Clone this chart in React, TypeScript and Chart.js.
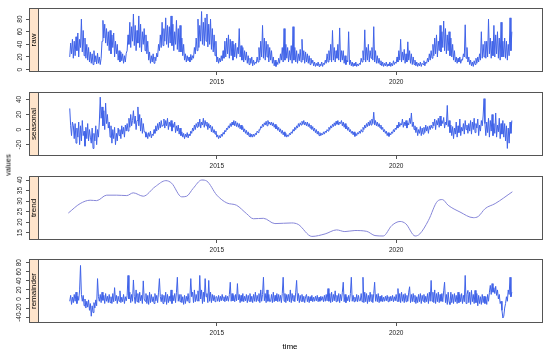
import React, { useEffect, useRef } from "react";
import { Chart, registerables } from "chart.js";

Chart.register(...registerables);

// ---- time index of the series (decimal years) ----
const START_YEAR = 2010.9;
const STEP_YEARS = 0.025;

// ---- series values (40 per year) ----
const rawValues = [
  20, 42, 25, 48,
  18, 45, 22, 52, 30, 58, 20, 48, 35, 80, 28, 62, 22, 50, 18, 40, 15, 35, 12, 28,
  10, 25, 8, 30, 12, 22, 9, 26, 10, 20, 8, 18, 45, 78, 50, 72, 42, 65, 38, 60,
  30, 62, 25, 55, 35, 58, 20, 45, 25, 40, 15, 30, 12, 28, 14, 25, 10, 22, 12, 26,
  30, 55, 40, 75, 35, 68, 45, 88, 38, 70, 30, 62, 42, 85, 35, 72, 28, 60, 40, 65,
  30, 55, 25, 45, 15, 28, 10, 22, 12, 25, 10, 20, 14, 26, 20, 40, 30, 55, 35, 75,
  38, 65, 45, 82, 40, 70, 35, 68, 42, 85, 38, 72, 30, 60, 40, 78, 32, 65, 28, 70,
  28, 50, 22, 40, 15, 25, 12, 22, 14, 20, 12, 24, 15, 22, 18, 35, 25, 50, 30, 80,
  35, 70, 45, 92, 40, 75, 38, 82, 45, 88, 36, 72, 40, 80, 32, 65, 28, 55, 22, 45,
  12, 20, 10, 18, 12, 22, 14, 30, 18, 45, 20, 50, 25, 55, 18, 48, 22, 45, 15, 40,
  20, 42, 18, 35, 25, 65, 20, 38, 15, 35, 12, 30, 15, 28, 10, 22, 8, 18, 10, 20,
  6, 15, 8, 12, 10, 20, 12, 35, 15, 45, 20, 70, 18, 50, 15, 45, 20, 40, 12, 35,
  15, 30, 10, 20, 6, 15, 5, 12, 8, 18, 10, 25, 15, 35, 12, 65, 15, 40, 18, 35,
  12, 30, 15, 38, 10, 68, 15, 35, 12, 30, 10, 25, 14, 32, 12, 48, 15, 30, 10, 28,
  12, 25, 10, 22, 8, 18, 10, 15, 6, 12, 5, 10, 6, 12, 5, 9, 6, 12, 5, 10,
  8, 15, 10, 25, 12, 30, 15, 40, 12, 62, 15, 35, 12, 30, 18, 40, 15, 66, 12, 30,
  15, 30, 10, 22, 8, 15, 12, 60, 8, 15, 6, 12, 5, 10, 6, 12, 5, 9, 6, 10,
  8, 18, 12, 30, 15, 63, 12, 35, 15, 40, 12, 30, 18, 35, 15, 68, 12, 30, 10, 22,
  10, 18, 8, 14, 6, 12, 5, 10, 6, 12, 5, 9, 6, 12, 5, 10, 6, 14, 8, 12,
  10, 20, 12, 30, 15, 48, 12, 28, 15, 32, 10, 25, 12, 44, 15, 30, 10, 25, 8, 20,
  8, 15, 6, 12, 5, 10, 6, 12, 5, 10, 8, 14, 6, 12, 10, 18, 12, 25, 15, 30,
  18, 40, 22, 50, 25, 55, 20, 45, 30, 70, 28, 60, 35, 77, 30, 65, 25, 55, 30, 60,
  22, 50, 20, 40, 15, 30, 12, 20, 10, 18, 12, 20, 10, 16, 15, 25, 20, 71, 18, 35,
  12, 20, 8, 15, 6, 12, 5, 14, 8, 18, 10, 20, 12, 25, 15, 60, 18, 40, 20, 45,
  18, 45, 20, 80, 25, 50, 18, 45, 22, 70, 20, 55, 25, 60, 18, 50, 15, 75, 20, 45,
  20, 50, 18, 45, 15, 40, 22, 82, 30, 60,
];

const seasonalValues = [
  28, 5, -8, 10,
  5, -12, 8, -18, 2, -10, 10, -20, 5, -15, 12, -8, -2, -22, 3, -12, 8, -15, 0, -10,
  -18, 2, -25, -5, -15, 5, -20, 0, -10, 10, 43, 15, 30, 5, 25, 0, 35, 8, 20, 2,
  10, -10, 5, -18, 0, -12, 3, -20, -5, -15, 2, -8, 0, -12, 5, -6, 3, -10, 6, -2,
  8, -2, 15, 3, 20, 5, 12, 25, 8, 18, 0, 12, 30, 5, 20, -2, 15, -5, 8, -3,
  -3, -10, -5, -12, -4, -9, -2, -11, -6, -8, 0, -5, 5, -2, 8, 0, 10, 2, 12, 4,
  6, 14, 2, 12, 5, 15, 0, 10, 4, 12, -2, 8, 3, 10, -4, 5, -2, 6, -6, 2,
  -8, -3, -10, -5, -12, -6, -10, -4, -11, -6, -8, -2, -5, 2, -2, 6, 0, 8, 3, 10,
  4, 14, 2, 10, 6, 15, 3, 12, 5, 10, 0, 8, 2, 6, -3, 4, -4, 0, -6, -2,
  -10, -7, -12, -8, -11, -6, -9, -4, -6, -1, -3, 2, 0, 5, 2, 8, 4, 10, 6, 12,
  5, 11, 4, 9, 3, 8, 1, 6, 0, 4, -3, 1, -5, -1, -7, -3, -9, -5, -10, -6,
  -10, -6, -9, -5, -7, -2, -4, 0, -1, 4, 2, 7, 4, 9, 6, 11, 5, 12, 7, 10,
  6, 10, 5, 9, 3, 7, 1, 5, -1, 3, -3, 1, -5, -1, -7, -3, -9, -5, -10, -7,
  -9, -5, -7, -3, -5, 0, -2, 3, 0, 5, 2, 8, 4, 9, 6, 11, 7, 12, 6, 10,
  5, 10, 4, 8, 2, 6, 0, 4, -2, 2, -4, 0, -6, -2, -8, -4, -8, -5, -7, -3,
  -6, -2, -4, 0, -2, 3, 0, 5, 2, 7, 4, 9, 5, 11, 7, 12, 6, 10, 8, 12,
  5, 10, 3, 8, 1, 5, -1, 3, -3, 0, -5, -2, -7, -3, -9, -5, -8, -4, -6, -2,
  -5, 0, -3, 3, 0, 6, 2, 8, 4, 10, 5, 12, 6, 14, 8, 23, 6, 12, 5, 10,
  4, 8, 2, 6, 0, 3, -3, 0, -5, -2, -8, -4, -9, -5, -7, -3, -5, 0, -3, 2,
  0, 6, 2, 10, 4, 8, 6, 14, 3, 10, 5, 12, 2, 9, 6, 15, 8, 22, 4, 10,
  0, 5, -4, 3, -8, 0, -5, 4, -8, 2, -6, 3, -4, 6, -2, 4, -5, 5, 0, 6,
  2, 10, 5, 14, 0, 12, 6, 15, 3, 18, 5, 12, 8, 16, 2, 10, 6, 32, 4, 12,
  -4, 6, -8, 4, -12, 2, -6, 10, -10, 5, -4, 14, -8, 3, -2, 8, -6, 12, 0, 6,
  -5, 8, -2, 12, -6, 10, 0, 15, -4, 8, 2, 14, -8, 6, -2, 12, 5, 18, 41, 8,
  -8, 10, -4, 15, -10, 12, -2, 20, -8, 8, -5, 22, -10, 6, -3, 15, -12, 8, -6, 12,
  -10, 8, -15, 5, -25, 2, -18, 10, -5, 12,
];

const remainderValues = [
  -5, 8, -12, 4,
  -8, 10, -5, 15, -10, 6, -3, 20, 74, 10, -5, 8, -15, 0, -20, -5, -18, -2, -25, -10,
  -38, -15, -30, -8, -20, -2, -15, 45, 5, -5, 10, -8, 15, -3, 8, -10, 12, -5, 6, -8,
  10, -8, 5, -10, 12, -6, 25, -4, 8, -10, 6, -5, 18, -8, 4, -6, 10, -10, 5, -4,
  8, 52, 0, 15, -8, 10, -5, 42, 5, -10, 20, -6, 12, -8, 15, -4, 8, -10, 40, 0,
  -5, 12, -10, 8, -12, 15, -8, 10, -6, 5, -10, 12, -4, 8, -8, 15, 45, 5, -6, 10,
  -10, 8, -6, 15, -12, 10, -8, 6, -5, 20, -10, 8, -4, 12, -8, 15, 48, -5, 10, -6,
  10, -8, 5, -12, 8, -10, 6, -5, 12, -8, 4, 45, 5, 15, -8, 20, -6, 10, -4, 18,
  -5, 52, 0, 20, -10, 15, -6, 45, 5, 12, -8, 41, -5, 15, -8, 10, -4, 8, -6, 5,
  5, -5, 8, -6, 6, -4, 10, -3, 5, -6, 8, -4, 6, -5, 10, 37, -5, 12, -4, 8,
  -6, 10, -4, 34, -2, 10, -8, 8, -5, 12, -6, 6, -4, 10, -8, 8, -5, 12, -6, 6,
  -8, 10, -5, 15, -6, 8, -4, 12, -8, 20, -5, 10, 48, -4, 12, -8, 20, -5, 10, -6,
  -5, 10, -8, 15, -6, 8, -4, 12, -6, 10, -5, 8, -8, 12, 48, -5, 12, -8, 10, -4,
  10, -6, 20, -8, 12, -4, 8, -6, 15, 41, -4, 12, -8, 8, -5, 10, -6, 6, -8, 5,
  10, -6, 6, -8, 5, -4, 8, -6, 4, -5, 6, -4, 8, -6, 4, -5, 6, -3, 5, -6,
  8, -5, 10, -4, 23, -5, 12, -8, 15, -6, 10, -4, 18, -6, 8, -5, 12, -8, 10, -4,
  15, 37, -6, 10, -8, 5, -4, 8, -6, 12, 48, -5, 8, -6, 4, -5, 10, -6, 8, -4,
  -4, 12, -6, 48, -8, 15, -6, 12, -10, 8, -6, 15, -5, 10, -8, 12, 37, -5, 10, -6,
  12, -8, 6, -5, 8, -6, 4, -5, 6, -4, 8, -6, 5, -5, 6, -4, 8, -6, 5, -4,
  10, -5, 23, -6, 12, -8, 15, -5, 10, -8, 12, -6, 8, -5, 15, 27, -8, 10, -6, 12,
  -6, 8, -10, 5, -8, 10, -6, 12, -10, 8, -5, 10, -8, 6, -6, 12, -10, 15, -5, 41,
  -5, 15, -8, 20, -10, 12, -6, 15, -8, 10, -5, 12, -6, 18, 37, -8, 10, -12, 15, -6,
  -12, 15, -8, 10, -10, 12, -6, 8, -10, 15, -8, 10, -6, 12, -10, 8, -6, 52, -10, 10,
  19, -8, 15, -12, 19, -6, 10, -10, 19, -8, 12, -15, 8, -10, 5, -12, 10, -8, 6, -10,
  5, -12, 10, -5, 15, 30, 10, 34, 15, 25, 12, 28, 8, 20, 0, 10, -10, -5, -25, -42,
  -38, -20, -10, 5, -5, 20, 10, 48, 5, 15,
];

const trendYears = [
  2010.86, 2011.19, 2011.47, 2011.65, 2011.93, 2012.21, 2012.49, 2012.67, 2012.95,
  2013.28, 2013.58, 2013.74, 2014.02, 2014.16, 2014.34, 2014.58, 2014.72, 2015.0,
  2015.28, 2015.55, 2015.83, 2016.02, 2016.3, 2016.62, 2017.09, 2017.27, 2017.65,
  2018.02, 2018.34, 2018.57, 2018.85, 2019.18, 2019.41, 2019.64, 2019.88, 2020.11,
  2020.27, 2020.53, 2020.66, 2020.9, 2021.15, 2021.29, 2021.45, 2021.78, 2022.15,
  2022.29, 2022.48, 2022.76, 2023.24,
];
const trendValues = [
  24.3, 28.8, 30.4, 30.2, 32.8, 32.8, 32.6, 33.9, 32.3,
  36.8, 39.7, 38.5, 32.0, 32.3, 36.0, 40.0, 39.5, 32.8,
  29.1, 28.0, 24.0, 21.6, 21.8, 19.3, 19.6, 18.9, 13.2,
  14.4, 16.3, 15.5, 16.0, 15.6, 13.6, 13.4, 18.4, 20.3,
  19.2, 13.4, 14.4, 20.8, 29.9, 30.7, 28.0, 24.8, 22.1,
  22.7, 26.4, 28.8, 34.4,
];

// ---- tick labels ----
const xTickYears = [2015, 2020];
const rawTicks = [0, 20, 40, 60, 80];
const seasonalTicks = [-20, 0, 20, 40];
const trendTicks = [15, 20, 25, 30, 35, 40];
const remainderTicks = [-40, -20, 0, 20, 40, 60, 80];
const panelNames = ["raw", "seasonal", "trend", "remainder"];

const FONT = "'Liberation Sans', Arial, Helvetica, sans-serif";
const LINE = "#3f62e8";
const TREND_LINE = "#8686d8";
const AXIS = "#555555";

const toPoints = (vals: number[]) =>
  vals.map((v, i) => ({ x: START_YEAR + i * STEP_YEARS, y: v }));

type Panel = {
  name: string;
  points: { x: number; y: number }[];
  ticks: number[];
  min: number;
  max: number;
  top: number;
  color: string;
  smooth: boolean;
};

const panels: Panel[] = [
  { name: panelNames[0], points: toPoints(rawValues), ticks: rawTicks, min: -3.8, max: 97.6, top: 8, color: LINE, smooth: false },
  { name: panelNames[1], points: toPoints(seasonalValues), ticks: seasonalTicks, min: -35, max: 49.8, top: 92, color: LINE, smooth: false },
  { name: panelNames[2], points: trendYears.map((x, i) => ({ x, y: trendValues[i] })), ticks: trendTicks, min: 11.5, max: 41.9, top: 176, color: TREND_LINE, smooth: true },
  { name: panelNames[3], points: toPoints(remainderValues), ticks: remainderTicks, min: -53, max: 88.3, top: 259, color: LINE, smooth: false },
];

const CANVAS_W = 550;
const PAD_TOP = 6;
const AREA_H = 64;
const XAXIS_H = 16;
const CANVAS_H = PAD_TOP + AREA_H + XAXIS_H;

const stripPlugin = {
  id: "stripFrame",
  afterDatasetsDraw(chart: any, _args: any, opts: any) {
    const { ctx, chartArea } = chart;
    const { left, top, right, bottom } = chartArea;
    const sw = 9;
    ctx.save();
    ctx.fillStyle = "#ffe5cc";
    ctx.fillRect(left, top, sw, bottom - top);
    ctx.strokeStyle = AXIS;
    ctx.lineWidth = 1;
    ctx.beginPath();
    ctx.moveTo(left + sw + 0.5, top);
    ctx.lineTo(left + sw + 0.5, bottom);
    ctx.stroke();
    ctx.translate(left + sw / 2 + 0.5, (top + bottom) / 2);
    ctx.rotate(-Math.PI / 2);
    ctx.fillStyle = "#000";
    ctx.font = `8px ${FONT}`;
    ctx.textAlign = "center";
    ctx.textBaseline = "middle";
    ctx.fillText(opts.label, 0, 0);
    ctx.restore();
    ctx.save();
    ctx.strokeStyle = AXIS;
    ctx.lineWidth = 1;
    ctx.strokeRect(left + 0.5, top + 0.5, right - left - 1, bottom - top - 1);
    ctx.restore();
  },
};

function PanelChart({ panel }: { panel: Panel }) {
  const ref = useRef<HTMLCanvasElement>(null);
  useEffect(() => {
    if (!ref.current) return;
    const tickFont = { family: FONT, size: 6.5 };
    const chart = new Chart(ref.current, {
      type: "line",
      data: {
        datasets: [
          {
            data: panel.points,
            borderColor: panel.color,
            borderWidth: 1,
            pointRadius: 0,
            fill: false,
            tension: panel.smooth ? 0.4 : 0,
            cubicInterpolationMode: panel.smooth ? "monotone" : "default",
          } as any,
        ],
      },
      options: {
        animation: false,
        responsive: false,
        devicePixelRatio: 1,
        layout: { padding: { left: 0, right: CANVAS_W - 543, top: PAD_TOP, bottom: 0 } },
        plugins: {
          legend: { display: false },
          tooltip: { enabled: false },
          stripFrame: { label: panel.name },
        } as any,
        scales: {
          x: {
            type: "linear",
            min: 2009.764,
            max: 2024.094,
            afterBuildTicks: (s: any) => {
              s.ticks = xTickYears.map((v) => ({ value: v }));
            },
            afterFit: (s: any) => {
              s.height = XAXIS_H;
            },
            grid: { display: true, drawOnChartArea: false, drawTicks: true, tickLength: 3, color: AXIS },
            border: { display: false },
            ticks: {
              font: tickFont,
              color: "#222",
              padding: 3,
              maxRotation: 0,
              autoSkip: false,
              callback: (v: any) => String(v),
            },
          },
          y: {
            type: "linear",
            min: panel.min,
            max: panel.max,
            afterBuildTicks: (s: any) => {
              s.ticks = panel.ticks.map((v) => ({ value: v }));
            },
            afterFit: (s: any) => {
              s.width = 29;
            },
            grid: { display: true, drawOnChartArea: false, drawTicks: true, tickLength: 3, color: AXIS },
            border: { display: false },
            ticks: {
              font: tickFont,
              color: "#222",
              padding: 2,
              minRotation: 90,
              maxRotation: 90,
              crossAlign: "center",
              autoSkip: false,
              callback: (v: any) => String(v),
            },
          },
        },
      } as any,
      plugins: [stripPlugin],
    });
    return () => chart.destroy();
  }, [panel]);
  return (
    <canvas
      ref={ref}
      width={CANVAS_W}
      height={CANVAS_H}
      style={{ position: "absolute", left: 0, top: panel.top - PAD_TOP, width: CANVAS_W, height: CANVAS_H }}
    />
  );
}

export default function App() {
  useEffect(() => {
    document.body.style.margin = "0";
  }, []);
  return (
    <div style={{ position: "absolute", left: 0, top: 0, width: 550, height: 355, background: "#fff", overflow: "hidden" }}>
      {panels.map((p) => (
        <PanelChart key={p.name} panel={p} />
      ))}
      <div
        style={{
          position: "absolute",
          left: 8,
          top: 165,
          transform: "translate(-50%, -50%) rotate(-90deg)",
          font: `7.5px ${FONT}`,
          color: "#000",
          whiteSpace: "nowrap",
        }}
      >
        values
      </div>
      <div
        style={{
          position: "absolute",
          left: 290,
          top: 346,
          transform: "translate(-50%, -50%)",
          font: `8px ${FONT}`,
          color: "#000",
          whiteSpace: "nowrap",
        }}
      >
        time
      </div>
    </div>
  );
}
